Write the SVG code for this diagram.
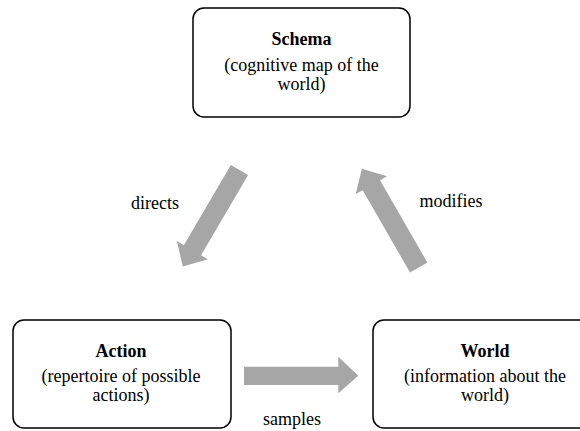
<svg xmlns="http://www.w3.org/2000/svg" width="580" height="431" viewBox="0 0 580 431">
<style>
.box{fill:#fff;stroke:#000;stroke-width:1.5}
.t{font-size:18px;fill:#000;text-anchor:middle}
.b{font-weight:bold}
.arr{fill:#a6a6a6}
</style>
<rect width="580" height="431" fill="#fff"/>
<g font-family="'Liberation Serif', 'Times New Roman', Times, 'DejaVu Serif', serif">
<g id="schema">
<rect class="box" x="193" y="8" width="217" height="109" rx="11"/>
<text class="t b" x="301.5" y="45">Schema</text>
<text class="t" x="301.5" y="71">(cognitive map of the</text>
<text class="t" x="301.5" y="90">world)</text>
</g>
<g id="action">
<rect class="box" x="13" y="320" width="218" height="108" rx="11"/>
<text class="t b" x="121" y="357">Action</text>
<text class="t" x="121" y="382">(repertoire of possible</text>
<text class="t" x="121" y="401">actions)</text>
</g>
<g id="world">
<rect class="box" x="373" y="320" width="225" height="108" rx="11"/>
<text class="t b" x="485" y="357">World</text>
<text class="t" x="485" y="382">(information about the</text>
<text class="t" x="485" y="401">world)</text>
</g>
<g id="connectors">
<polygon class="arr" transform="translate(239.5,170) rotate(120.4)" points="0,-10 93,-10 93,-18 112,0 93,18 93,10 0,10"/>
<polygon class="arr" transform="translate(418.7,267.5) rotate(-119.9)" points="0,-10 95,-10 95,-18 114,0 95,18 95,10 0,10"/>
<polygon class="arr" points="244,366.7 338.3,366.7 338.3,356.7 358.3,375.8 338.3,393.3 338.3,385 244,385"/>
<text class="t" x="155" y="209">directs</text>
<text class="t" x="451" y="207">modifies</text>
<text class="t" x="292" y="425">samples</text>
</g>
</g>
</svg>
